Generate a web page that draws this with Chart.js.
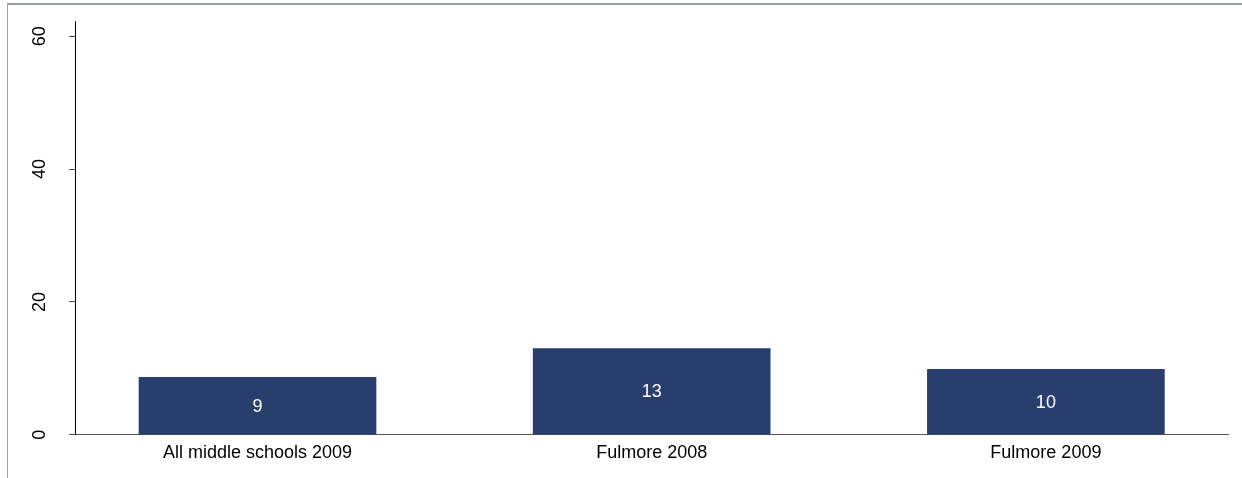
<!DOCTYPE html>
<html>
<head>
<meta charset="utf-8">
<script src="https://cdn.jsdelivr.net/npm/chart.js@4.4.1/dist/chart.umd.min.js"></script>
<style>
    html, body { margin: 0; padding: 0; background: #fff; }
    #wrap { position: relative; width: 1242px; height: 478px; }
    #frame {
        position: absolute; left: 7px; top: 3px; right: 0; bottom: 0;
        border-top: 2px solid #9ba1aa; border-left: 1px solid #9ba1aa;
        pointer-events: none;
    }
</style>
</head>
<body>
<div id="wrap">
    <canvas id="chart" width="1242" height="478"></canvas>
    <div id="frame"></div>
</div>
<script>
// datos
const categorias = ['All middle schools 2009', 'Fulmore 2008', 'Fulmore 2009'];
const valores = [8.65, 12.97, 9.86];
const etiquetas = ['9', '13', '10'];
const ticksY = [0, 20, 40, 60];

const FUENTE = "'Liberation Sans', Arial, sans-serif";

// ── etiquetas blancas dentro de cada barra ──
const etiquetasBarras = {
    id: 'etiquetasBarras',
    afterDatasetsDraw(chart) {
        const ctx = chart.ctx;
        const meta = chart.getDatasetMeta(0);
        ctx.save();
        ctx.fillStyle = '#ffffff';
        ctx.font = '18px ' + FUENTE;
        ctx.textAlign = 'center';
        ctx.textBaseline = 'middle';
        meta.data.forEach((bar, i) => {
            ctx.fillText(etiquetas[i], bar.x, (bar.y + bar.base) / 2 + 1);
        });
        ctx.restore();
    },
};

new Chart(document.getElementById('chart'), {
    type: 'bar',
    data: {
        datasets: [{
            data: valores.map((v, i) => ({ x: i, y: v })),
            backgroundColor: '#283f6d',
            borderWidth: 0,
            barThickness: 237,
        }],
    },
    options: {
        responsive: false,
        animation: false,
        events: [],
        layout: { padding: { top: 21, right: 14, left: 0, bottom: 0 } },
        plugins: {
            legend: { display: false },
            tooltip: { enabled: false },
        },
        scales: {
            x: {
                type: 'linear',
                offset: false,
                min: -0.463,
                max: 2.462,
                afterBuildTicks: (s) => { s.ticks = categorias.map((c, i) => ({ value: i })); },
                afterFit: (s) => {
                    s.height = 478 - 21 - 413.7;
                    s.paddingLeft = 0;
                    s.paddingRight = 0;
                },
                grid: { offset: false, drawOnChartArea: false, drawTicks: false },
                border: { display: true, color: '#555555', width: 1 },
                ticks: {
                    padding: 8,
                    color: '#000',
                    font: { family: FUENTE, size: 18 },
                    maxRotation: 0,
                    autoSkip: false,
                    callback: (v) => categorias[v] ?? '',
                },
            },
            y: {
                min: 0,
                max: 62.3,
                afterBuildTicks: (s) => { s.ticks = ticksY.map(v => ({ value: v })); },
                afterFit: (s) => {
                    s.width = 75;
                    s.paddingTop = 0;
                    s.paddingBottom = 0;
                },
                grid: { drawOnChartArea: false, drawTicks: true, tickLength: 6, color: '#444' },
                border: { display: true, color: '#000', width: 1 },
                ticks: {
                    minRotation: 90,
                    maxRotation: 90,
                    crossAlign: 'center',
                    padding: 19,
                    color: '#000',
                    font: { family: FUENTE, size: 18 },
                },
            },
        },
    },
    plugins: [etiquetasBarras],
});
</script>
</body>
</html>
